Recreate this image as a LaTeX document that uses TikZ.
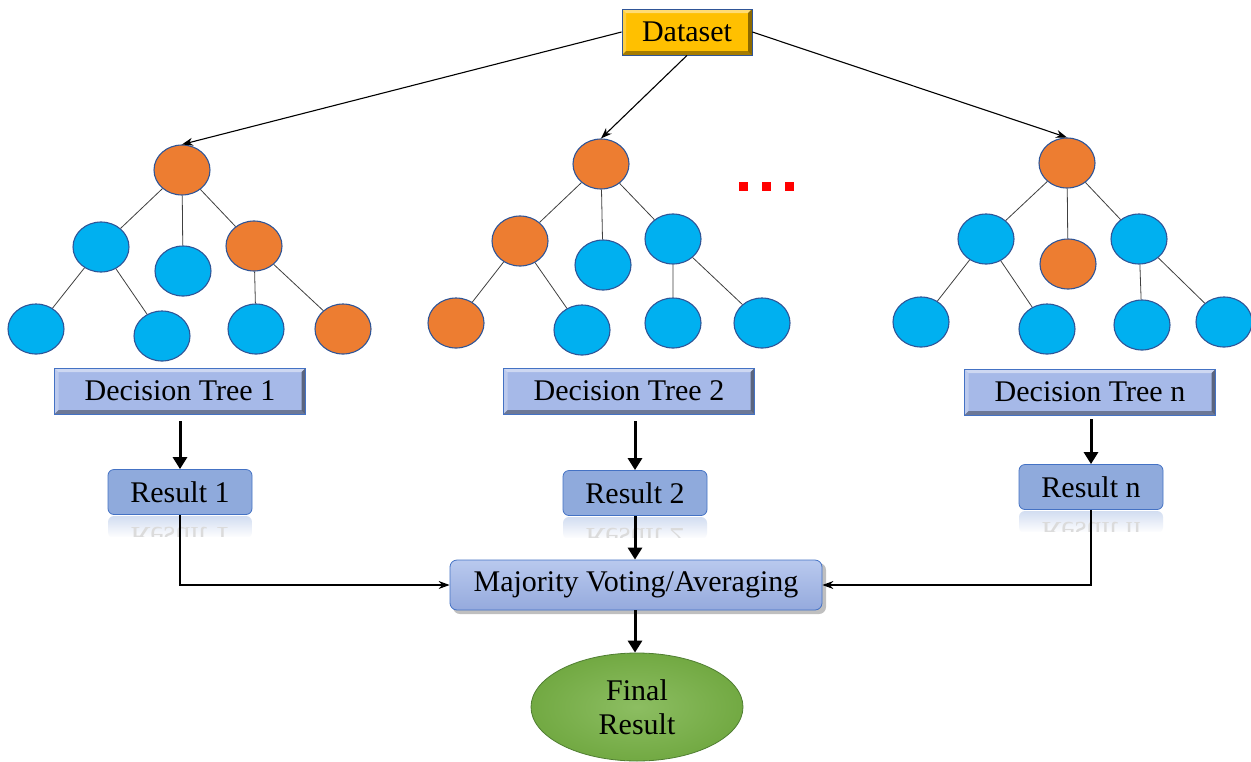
\documentclass[tikz,border=0pt]{standalone}
\usepackage{fontspec}
\setmainfont{Liberation Serif}
\usetikzlibrary{shapes.geometric,arrows.meta,calc}
\definecolor{treeor}{HTML}{ED7D31}
\definecolor{treebl}{HTML}{00B0F0}
\definecolor{treeln}{HTML}{2F5597}
\definecolor{dtfill}{HTML}{A6B9E8}
\definecolor{resfill}{HTML}{8FAADC}
\definecolor{boxln}{HTML}{4472C4}
\definecolor{mvtop}{HTML}{B9C9EE}
\definecolor{mvbot}{HTML}{95AADD}
\definecolor{gold}{HTML}{FFC000}
\definecolor{greenf}{HTML}{78B246}
\definecolor{greenl}{HTML}{507E32}
\tikzset{
  x=1pt,y=-1pt,
  tnode/.style={ellipse,draw=treeln,line width=1.1pt,minimum width=56pt,minimum height=50pt,inner sep=0pt},
  orn/.style={tnode,fill=treeor},
  bln/.style={tnode,fill=treebl},
  tedge/.style={draw=black!75,line width=0.8pt},
  bevel/.style={path picture={
    \fill[white,opacity=0.45] (path picture bounding box.north west) -- (path picture bounding box.north east) -- ([xshift=-4pt,yshift=-4pt]path picture bounding box.north east) -- ([xshift=4pt,yshift=-4pt]path picture bounding box.north west) -- cycle;
    \fill[white,opacity=0.25] (path picture bounding box.north west) -- ([xshift=4pt,yshift=-4pt]path picture bounding box.north west) -- ([xshift=4pt,yshift=4pt]path picture bounding box.south west) -- (path picture bounding box.south west) -- cycle;
    \fill[black,opacity=0.35] (path picture bounding box.south west) -- (path picture bounding box.south east) -- ([xshift=-4pt,yshift=4pt]path picture bounding box.south east) -- ([xshift=4pt,yshift=4pt]path picture bounding box.south west) -- cycle;
    \fill[black,opacity=0.45] (path picture bounding box.north east) -- ([xshift=-4pt,yshift=-4pt]path picture bounding box.north east) -- ([xshift=-4pt,yshift=4pt]path picture bounding box.south east) -- (path picture bounding box.south east) -- cycle;
  }},
  bigfont/.style={font=\fontsize{30}{33}\selectfont},
  dtbox/.style={rectangle,draw=boxln,line width=0.8pt,fill=dtfill,bevel,minimum width=251pt,minimum height=46pt,bigfont},
  resbox/.style={rectangle,rounded corners=6pt,draw=boxln,line width=0.8pt,fill=resfill,minimum width=144pt,minimum height=45pt,bigfont},
  thin arrow/.style={line width=1.1pt,-{Stealth[length=11pt,width=8pt]}},
  thick arrow/.style={line width=3pt,-{Triangle[length=12pt,width=14pt]}},
  link/.style={line width=1.1pt},
}
\begin{document}
\begin{tikzpicture}
\useasboundingbox (0,0) rectangle (1251,761);
\fill[white] (0,0) rectangle (1251,761);

% Dataset
\node[rectangle,draw=treeln,line width=0.8pt,fill=gold,bevel,minimum width=130pt,minimum height=46pt,bigfont] (ds) at (687,32) {Dataset};

% Tree 1
\node[orn] (a0) at (182,170) {};
\node[bln] (a1) at (101,247) {};
\node[bln] (a2) at (183,271) {};
\node[orn] (a3) at (254,246) {};
\node[bln] (a4) at (36,329) {};
\node[bln] (a5) at (162,336) {};
\node[bln] (a6) at (256,329) {};
\node[orn] (a7) at (343,329) {};
\draw[tedge] (a0)--(a1) (a0)--(a2) (a0)--(a3) (a1)--(a4) (a1)--(a5) (a3)--(a6) (a3)--(a7);

% Tree 2
\node[orn] (b0) at (601,164) {};
\node[orn] (b1) at (520,241) {};
\node[bln] (b2) at (603,265) {};
\node[bln] (b3) at (673,239) {};
\node[orn] (b4) at (456,323) {};
\node[bln] (b5) at (582,330) {};
\node[bln] (b6) at (673,323) {};
\node[bln] (b7) at (762,323) {};
\draw[tedge] (b0)--(b1) (b0)--(b2) (b0)--(b3) (b1)--(b4) (b1)--(b5) (b3)--(b6) (b3)--(b7);

% Tree n
\node[orn] (c0) at (1067,163) {};
\node[bln] (c1) at (986,239) {};
\node[orn] (c2) at (1068,264) {};
\node[bln] (c3) at (1139,239) {};
\node[bln] (c4) at (921,322) {};
\node[bln] (c5) at (1047,329) {};
\node[bln] (c6) at (1142,325) {};
\node[bln] (c7) at (1224,322) {};
\draw[tedge] (c0)--(c1) (c0)--(c2) (c0)--(c3) (c1)--(c4) (c1)--(c5) (c3)--(c6) (c3)--(c7);

% dots
\foreach \xx in {743,766,789}
  \fill[red] (\xx-4.5,181.5) rectangle (\xx+4.5,190.5);

% dataset arrows
\draw[thin arrow] (ds.west) -- (a0.north);
\draw[thin arrow] (ds.south) -- (b0.north);
\draw[thin arrow] (ds.east) -- (c0.north);

% decision tree boxes
\node[dtbox] (d1) at (180,391) {Decision Tree 1};
\node[dtbox] (d2) at (629,391) {Decision Tree 2};
\node[dtbox] (dn) at (1090,392) {Decision Tree n};

% result reflections
\foreach \cx/\cy/\txt in {180/492/Result 1,635/493/Result 2,1091/487/Result n}{
  \begin{scope}
    \clip (\cx-72,\cy+24) rectangle (\cx+72,\cy+44);
    \shade[top color=resfill!40,bottom color=white,rounded corners=6pt] (\cx-72,\cy+24) rectangle (\cx+72,\cy+46);
    \node[text=black!14,bigfont] at (\cx,\cy+46) {\scalebox{1}[-1]{\txt}};
  \end{scope}
}

% result boxes
\node[resbox] (r1) at (180,492) {Result 1};
\node[resbox] (r2) at (635,493) {Result 2};
\node[resbox] (rn) at (1091,487) {Result n};

\draw[thick arrow] ([yshift=-7pt]d1.south) -- (r1.north);
\draw[thick arrow] ([yshift=-7pt]d2.south -| r2.north) -- (r2.north);
\draw[thick arrow] ([yshift=-4pt]dn.south -| rn.north) -- (rn.north);

% majority
\fill[black,opacity=0.25,rounded corners=7pt] (453,563) rectangle (826,614);
\node[rectangle,rounded corners=7pt,draw=boxln,line width=0.8pt,top color=mvtop,bottom color=mvbot,minimum width=372pt,minimum height=50pt,bigfont] (mv) at (636,585) {Majority Voting/Averaging};

\draw[link,-{Stealth[length=11pt,width=8pt]}] (r1.south) |- (mv.west);
\draw[link,-{Stealth[length=11pt,width=8pt]}] (rn.south) |- (mv.east);
\draw[thick arrow] (r2.south) -- (mv.north -| r2.south);

% final
\node[ellipse,draw=greenl,line width=0.8pt,inner color=greenf!85!white,outer color=greenf!95!black,minimum width=212pt,minimum height=108pt,align=center,font=\fontsize{30}{34}\selectfont] (fr) at (637,707) {Final\\Result};
\draw[thick arrow] (mv.south -| r2.south) -- (fr.north -| r2.south);
\end{tikzpicture}
\end{document}
